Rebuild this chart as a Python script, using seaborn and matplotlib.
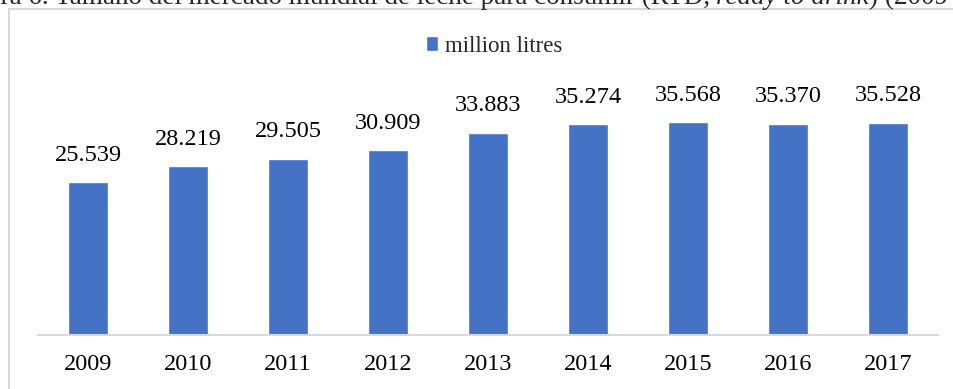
import matplotlib
matplotlib.use("Agg")
import matplotlib.pyplot as plt
import seaborn as sns
import pandas as pd
from matplotlib.patches import Rectangle

# data
years = ["2009", "2010", "2011", "2012", "2013", "2014", "2015", "2016", "2017"]
volume = [25.539, 28.219, 29.505, 30.909, 33.883, 35.274, 35.568, 35.370, 35.528]
labels = ["25.539", "28.219", "29.505", "30.909", "33.883", "35.274", "35.568", "35.370", "35.528"]
series_name = "million litres"

caption_a = "Figura 6. Tamaño del mercado mundial de leche para consumir (RTD, "
caption_b = "ready to drink"
caption_c = ") (2009-2017)"

sns.set_style("white")
plt.rcParams["font.family"] = ["Liberation Serif", "DejaVu Serif"]

df = pd.DataFrame({"year": years, "volume": volume})

W, H = 954, 389
fig = plt.figure(figsize=(W / 100, H / 100), dpi=100)
ax = fig.add_axes([38 / W, 1 - 335 / H, 900 / W, 239 / H])

blue = "#4472C4"
sns.barplot(data=df, x="year", y="volume", color=blue, width=0.4,
            saturation=1, label=series_name, ax=ax)

for i, txt in enumerate(labels):
    ax.annotate(txt, (i, volume[i]), xytext=(0, 12), textcoords="offset points",
                ha="center", va="bottom", fontsize=17.5, color="#000000")

ax.set_ylim(0, 40)
ax.set_xlim(-0.5, len(years) - 0.5)
ax.set_xlabel("")
ax.set_ylabel("")
ax.set_yticks([])
for s in ["top", "right", "left"]:
    ax.spines[s].set_visible(False)
ax.spines["bottom"].set_color("#d9d9d9")
ax.spines["bottom"].set_linewidth(1.5)
ax.tick_params(axis="x", length=0, pad=14, labelsize=17.5, colors="#000000")

leg = ax.legend(loc="center", bbox_to_anchor=(494 / W, 1 - 46 / H),
                bbox_transform=fig.transFigure, frameon=False, fontsize=16.5,
                handlelength=0.55, handleheight=0.6, handletextpad=0.3)

# outer chart frame (only left and top edges are inside the image)
fig.patches.append(Rectangle((9 / W, -0.1), 1.2, 1 - 9 / H + 0.1,
                             transform=fig.transFigure, fill=False,
                             edgecolor="#d9d9d9", linewidth=1.5))

# caption above the frame, cut off by the image edge
cap_size = 19.5
y_cap = 1 - 4.5 / H
t1 = fig.text(0, y_cap, caption_a, fontsize=cap_size, va="baseline", ha="left")
fig.canvas.draw()
r = fig.canvas.get_renderer()
pre = fig.text(0, y_cap, "Figura 6. ", fontsize=cap_size, va="baseline")
w_pre = pre.get_window_extent(r).width
pre.remove()
x0 = 55 - w_pre
t1.set_x(x0 / W)
fig.canvas.draw()
e1 = t1.get_window_extent(r)
t2 = fig.text(e1.x1 / W, y_cap, caption_b, fontsize=cap_size, style="italic", va="baseline")
fig.canvas.draw()
e2 = t2.get_window_extent(r)
fig.text(e2.x1 / W, y_cap, caption_c, fontsize=cap_size, va="baseline")

fig.savefig("out.png", dpi=100)
